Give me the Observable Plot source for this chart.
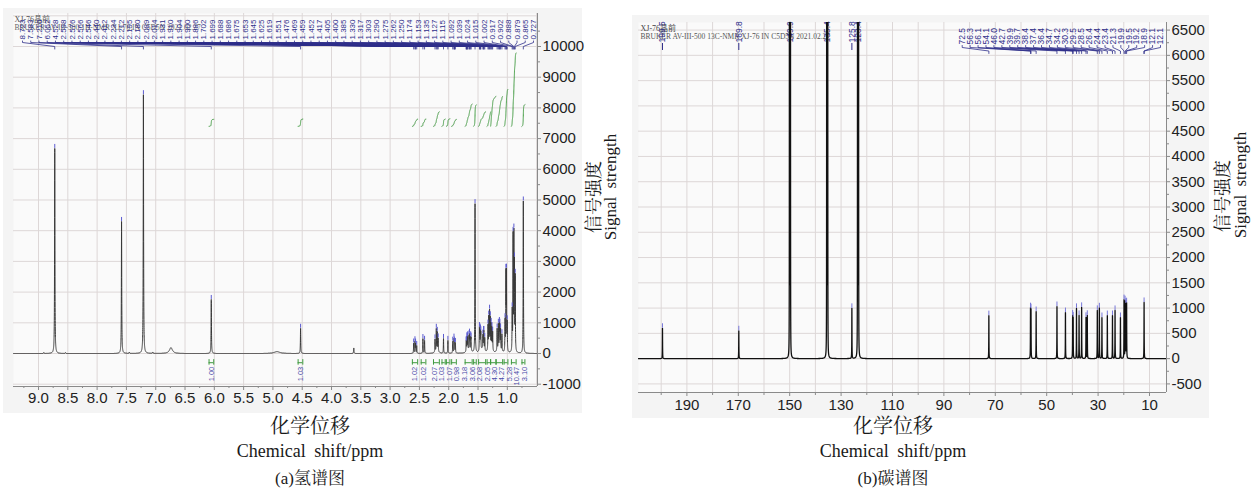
<!DOCTYPE html>
<html>
<head>
<meta charset="utf-8">
<script src="https://cdn.jsdelivr.net/npm/d3@7"></script>
<script src="https://cdn.jsdelivr.net/npm/@observablehq/plot@0.6"></script>
<style>
  html,body{margin:0;padding:0;background:#fff;}
  #wrap{position:relative;width:1256px;height:488px;overflow:hidden;}
  .panel{position:absolute;background:#f4f4f4;}
  .chart{position:absolute;top:0;}
  .cap{position:absolute;transform:translate(-50%,-50%);white-space:nowrap;color:#1a1a1a;
       font-family:"Liberation Serif","Noto Serif CJK SC","Noto Sans CJK SC",serif;}
  .yt{position:absolute;white-space:nowrap;color:#1a1a1a;transform:translate(-50%,-50%) rotate(-90deg);
       font-family:"Liberation Serif","Noto Serif CJK SC","Noto Sans CJK SC",serif;}
</style>
</head>
<body>
<div id="wrap">
  <div class="panel" style="left:3px;top:8px;width:579px;height:405px"></div>
  <div class="panel" style="left:632px;top:15px;width:577px;height:403px"></div>
  <div id="hChart" class="chart" style="left:0px"></div>
  <div id="cChart" class="chart" style="left:620px"></div>
  <div class="yt" style="left:592px;top:197px;font-size:18px">信号强度</div>
  <div class="yt" style="left:611px;top:187px;font-size:17px;word-spacing:4px">Signal strength</div>
  <div class="yt" style="left:1221px;top:196px;font-size:18px">信号强度</div>
  <div class="yt" style="left:1241px;top:185px;font-size:17px;word-spacing:4px">Signal strength</div>
  <div class="cap" style="left:310px;top:424px;font-size:20px">化学位移</div>
  <div class="cap" style="left:310px;top:451px;font-size:18px;word-spacing:4px">Chemical shift/ppm</div>
  <div class="cap" style="left:310px;top:476px;font-size:17px">(a)氢谱图</div>
  <div class="cap" style="left:893px;top:424px;font-size:20px">化学位移</div>
  <div class="cap" style="left:893px;top:451px;font-size:18px;word-spacing:4px">Chemical shift/ppm</div>
  <div class="cap" style="left:893px;top:476px;font-size:17px">(b)碳谱图</div>
</div>
<script>
// ---------------- (a) 1H NMR data ----------------
const hLabels = ["8.723","7.583","7.210","6.052","4.528","2.598","2.576","2.566","2.546","2.440","2.412","2.234","2.212","2.195","2.180","2.089","2.014","1.931","1.910","1.904","1.900","1.886","1.702","1.699","1.688","1.686","1.675","1.653","1.645","1.625","1.619","1.551","1.476","1.469","1.459","1.452","1.417","1.405","1.400","1.385","1.330","1.317","1.303","1.290","1.275","1.262","1.250","1.174","1.153","1.135","1.127","1.115","1.092","1.039","1.024","1.015","1.002","0.917","0.902","0.888","0.879","0.865","0.727"];
const hHeights = [6680,4300,8430,1760,820, 330,380,300,250, 480,420, 420,720,600,420, 480,420, 380,420,220,220,330, 220,220,250,250,450,420,480,400,360, 4850, 700,600,560,520,450,480,500,420, 780,1000,1150,950,800,700,600, 720,800,760,700,650,560, 1000,2450,2450,900, 1300,3700,3600,2600,2400, 4960];
const hExtraShift  = [8.91, 8.54, 7.45, 7.05, 6.74, 4.93, 3.62, 2.20, 1.65, 1.43, 1.30, 1.14];
const hExtraHeight = [30, 30, 40, 40, 190, 60, 180, 80, 100, 120, 160, 140];
const hExtraWidth  = [0.004,0.004,0.004,0.004,0.03,0.06,0.004,0.03,0.04,0.03,0.03,0.03];
const hIntValue = [1.00,1.03,1.02,1.02,2.07,1.03,1.07,0.98,3.18,3.06,2.08,2.05,4.30,4.27,5.28,10.47,3.10];
const hIntFrom  = [6.09,4.57,2.62,2.47,2.26,2.115,2.04,1.95,1.72,1.575,1.49,1.345,1.285,1.19,1.055,0.93,0.75];
const hIntTo    = [6.01,4.49,2.53,2.39,2.16,2.06,1.98,1.87,1.60,1.53,1.37,1.285,1.195,1.08,0.99,0.85,0.70];
const hXTicks = [9.0,8.5,8.0,7.5,7.0,6.5,6.0,5.5,5.0,4.5,4.0,3.5,3.0,2.5,2.0,1.5,1.0];
const hYTicks = [-1000,0,1000,2000,3000,4000,5000,6000,7000,8000,9000,10000];

// ---------------- (b) 13C NMR data ----------------
const cIsoLabels = ["199.5","169.8","149.9","135.4","125.8","123.4"];
const cClusterLabels = ["72.5","56.3","56.1","54.1","46.0","42.7","39.9","39.7","38.4","37.4","36.4","34.7","34.2","30.3","29.5","28.5","26.4","24.4","23.4","21.3","19.9","19.5","19.2","18.9","12.1","12.1"];
const cPeakShift  = [199.5,169.8,150.1,149.9,149.7,135.6,135.4,135.2,125.8,123.6,123.4,123.2,72.5,56.3,56.1,54.1,46.0,42.7,39.9,39.7,38.4,37.4,36.4,34.7,34.2,30.3,29.5,28.5,26.4,24.4,23.4,21.3,19.9,19.5,19.2,18.9,12.1];
const cPeakHeight = [600,550,15000,15000,15000,15000,15000,15000,990,15000,15000,15000,850,970,950,930,1030,910,830,790,990,850,1010,810,850,950,1000,810,850,850,950,810,1150,1110,1050,1080,1110];
const cXTicks = [190,170,150,130,110,90,70,50,30,10];
const cYTicks = [-500,0,500,1000,1500,2000,2500,3000,3500,4000,4500,5000,5500,6000,6500];

// ---------------- common helpers ----------------
const lor = (x, p) => p.h * p.w * p.w / ((x - p.s) * (x - p.s) + p.w * p.w);
const specAt = (peaks, x) => { let s = 0; for (const p of peaks) s += lor(x, p); return s; };
const NAVY = "#2e2e8a", BLUE = "#5b5bd0", GREEN = "#3f9a3f", GRID = "#ddd7d7", AX = "#8a8a8a";
const serif = "Liberation Serif, Noto Sans CJK SC, serif";

// ================= LEFT: 1H =================
const HD = {xMin: 0.485, xMax: 9.427, yMin: -1075, yMax: 11075};
const HW = 620, HH = 420, HM = {l: 13, r: 83, t: 13, b: 34};
const leftX = d3.scaleLinear().domain([HD.xMax, HD.xMin]).range([HM.l, HW - HM.r]);
const leftY = d3.scaleLinear().domain([HD.yMin, HD.yMax]).range([HH - HM.b, HM.t]);

const hPeaks = hLabels.map((s, i) => ({s: +s, h: hHeights[i], w: i < 5 ? 0.0035 : 0.003}))
  .concat(hExtraShift.map((s, i) => ({s, h: hExtraHeight[i], w: hExtraWidth[i]})));
const hSpec = d3.range(HD.xMin, HD.xMax, 0.0005).map(x => ({x, y: specAt(hPeaks, x)}));

// integral curves
const HBASE = 7400, HUNIT = 228;
const hInt = [];
hIntValue.forEach((v, i) => {
  const pts = hSpec.filter(d => d.x <= hIntFrom[i] && d.x >= hIntTo[i]).sort((a, b) => b.x - a.x);
  const tot = d3.sum(pts, d => d.y);
  let c = 0;
  pts.forEach(d => { c += d.y; hInt.push({id: i, x: d.x, y: HBASE + v * HUNIT * c / tot}); });
});
const hBrackets = hIntValue.map((v, i) => ({a: hIntFrom[i], b: hIntTo[i]}));
// integral labels (spread to avoid overlap)
let hIL = hIntValue.map((v, i) => ({t: v.toFixed(2), px: leftX((hIntFrom[i] + hIntTo[i]) / 2)}));
hIL.sort((a, b) => a.px - b.px);
for (let it = 0; it < 400; it++) for (let k = 1; k < hIL.length; k++) {
  const g = hIL[k].px - hIL[k - 1].px;
  if (g < 7.4) { const m = (7.4 - g) / 2; hIL[k].px += m; hIL[k - 1].px -= m; }
}
hIL.forEach(d => d.x = leftX.invert(d.px));

// top peak labels + connectors
const hTop = hLabels.map((t, i) => ({t, lx: leftX.invert(22 + i * (533 - 22) / (hLabels.length - 1)), px: +t}));
const hYL = leftY.invert(39), hC1 = leftY.invert(40.5), hC2 = leftY.invert(42), hC3 = leftY.invert(46), hC4 = leftY.invert(48.5);
const hConn = hTop.flatMap((d, i) => [{id: i, x: d.lx, y: hC1}, {id: i, x: d.lx, y: hC2}, {id: i, x: d.px, y: hC3}, {id: i, x: d.px, y: hC4}]);
const hTips = hLabels.map(s => { const y = specAt(hPeaks, +s); return {x: +s, y1: y, y2: y + 130}; });

const hMinorX = d3.range(0.5, 9.3, 0.25).filter(v => Math.abs(v * 2 - Math.round(v * 2)) > 1e-6);
const hMinorY = d3.range(-500, 11000, 1000);

const left = Plot.plot({
  width: HW, height: HH,
  marginLeft: HM.l, marginRight: HM.r, marginTop: HM.t, marginBottom: HM.b,
  x: {domain: [HD.xMax, HD.xMin], label: null},
  y: {domain: [HD.yMin, HD.yMax], label: null},
  style: {background: "transparent", fontFamily: "Liberation Sans, Arial, sans-serif", fontSize: "15px", color: "#222", overflow: "visible"},
  marks: [
    Plot.frame({fill: "#fafafa", stroke: null}),
    Plot.gridX(d3.range(0.5, 9.01, 0.5), {stroke: GRID, strokeOpacity: 1}),
    Plot.gridY(d3.range(-1000, 11001, 1000), {stroke: GRID, strokeOpacity: 1}),
    Plot.ruleY([HD.yMin], {stroke: AX}),
    Plot.ruleX([HD.xMin], {stroke: AX}),
    Plot.axisX(hXTicks, {tickFormat: d => d.toFixed(1), tickSize: 4, tickPadding: 2, stroke: AX, label: null}),
    Plot.axisX(hMinorX, {tickFormat: () => "", tickSize: 2, stroke: AX, label: null}),
    Plot.axisY(hYTicks, {anchor: "right", tickFormat: d => String(d), tickSize: 3, tickPadding: 2, stroke: AX, label: null}),
    Plot.axisY(hMinorY, {anchor: "right", tickFormat: () => "", tickSize: 2, stroke: AX, label: null}),
    Plot.text(["XJ-76晶前"], {frameAnchor: "top-left", dx: 1, dy: 3, textAnchor: "start", lineAnchor: "top", fontSize: 8, fill: "#555", fontFamily: serif}),
    Plot.text(["BRUKER AV-III-500 1H-NMR XJ-76 IN C5D5N 2021.02.27"], {frameAnchor: "top-left", dx: 1, dy: 11, textAnchor: "start", lineAnchor: "top", fontSize: 7.5, fill: "#666", fontFamily: serif}),
    Plot.line(hInt, {x: "x", y: "y", z: "id", stroke: GREEN, strokeWidth: 1}),
    Plot.ruleY(hBrackets, {y: () => -300, x1: "a", x2: "b", stroke: GREEN, strokeWidth: 1}),
    Plot.ruleX(hBrackets, {x: "a", y1: () => -200, y2: () => -380, stroke: GREEN, strokeWidth: 1}),
    Plot.ruleX(hBrackets, {x: "b", y1: () => -200, y2: () => -380, stroke: GREEN, strokeWidth: 1}),
    Plot.text(hIL, {x: "x", y: () => -430, text: "t", rotate: -90, textAnchor: "end", fontSize: 7.5, fill: "#4a4aa8"}),
    Plot.line(hSpec, {x: "x", y: "y", stroke: "#383838", strokeWidth: 1, clip: true}),
    Plot.ruleX(hTips, {x: "x", y1: "y1", y2: "y2", stroke: BLUE, strokeWidth: 1}),
    Plot.line(hConn, {x: "x", y: "y", z: "id", stroke: NAVY, strokeWidth: 0.8}),
    Plot.text(hTop, {x: "lx", y: () => hYL, text: "t", rotate: -90, textAnchor: "start", fontSize: 8, fill: NAVY})
  ]
});
document.getElementById("hChart").appendChild(left);

// ================= RIGHT: 13C =================
const CD = {xMin: 3.38, xMax: 208.83, yMin: -670, yMax: 6650};
const CW = 600, CH = 420, CM = {l: 18, r: 54, t: 22, b: 28};
const rightX = d3.scaleLinear().domain([CD.xMax, CD.xMin]).range([CM.l, CW - CM.r]);
const rightY = d3.scaleLinear().domain([CD.yMin, CD.yMax]).range([CH - CM.b, CM.t]);

const cPeaks = cPeakShift.map((s, i) => ({s, h: cPeakHeight[i], w: cPeakHeight[i] > 5000 ? 0.022 : 0.04}));
const cSpec = d3.range(CD.xMin, CD.xMax, 0.005).map(x => ({x, y: specAt(cPeaks, x)}));
const cTips = cPeaks.filter(p => p.h < 5000).map(p => { const y = specAt(cPeaks, p.s); return {x: p.s, y1: y, y2: y + 90}; });

const cIso = cIsoLabels.map(t => ({t, x: +t}));
const cYI = rightY.invert(42), cR1 = rightY.invert(43), cR2 = rightY.invert(50);
const cClu = cClusterLabels.map((t, i) => ({t, lx: rightX.invert(341.7 + i * (540 - 341.7) / (cClusterLabels.length - 1)), px: +t}));
const cYL = rightY.invert(44), cC1 = rightY.invert(45), cC2 = rightY.invert(47), cC3 = rightY.invert(50.5), cC4 = rightY.invert(53);
const cConn = cClu.flatMap((d, i) => [{id: i, x: d.lx, y: cC1}, {id: i, x: d.lx, y: cC2}, {id: i, x: d.px, y: cC3}, {id: i, x: d.px, y: cC4}]);

const cMinorX = d3.range(0, 209, 10).filter(v => v % 20 === 0 && v >= CD.xMin && v <= CD.xMax);
const cMinorY = d3.range(-250, 6650, 500);

const right = Plot.plot({
  width: CW, height: CH,
  marginLeft: CM.l, marginRight: CM.r, marginTop: CM.t, marginBottom: CM.b,
  x: {domain: [CD.xMax, CD.xMin], label: null},
  y: {domain: [CD.yMin, CD.yMax], label: null},
  style: {background: "transparent", fontFamily: "Liberation Sans, Arial, sans-serif", fontSize: "15px", color: "#222", overflow: "visible"},
  marks: [
    Plot.frame({fill: "#fafafa", stroke: null}),
    Plot.gridX(d3.range(10, 201, 10), {stroke: GRID, strokeOpacity: 1}),
    Plot.gridY(d3.range(-500, 6501, 500), {stroke: GRID, strokeOpacity: 1}),
    Plot.ruleY([CD.yMin], {stroke: AX}),
    Plot.ruleX([CD.xMin], {stroke: AX}),
    Plot.axisX(cXTicks, {tickFormat: d => String(d), tickSize: 4, tickPadding: 3, stroke: AX, label: null}),
    Plot.axisX(cMinorX, {tickFormat: () => "", tickSize: 3, stroke: AX, label: null}),
    Plot.axisY(cYTicks, {anchor: "right", tickFormat: d => String(d), tickSize: 3, tickPadding: 2, stroke: AX, label: null}),
    Plot.axisY(cMinorY, {anchor: "right", tickFormat: () => "", tickSize: 2, stroke: AX, label: null}),
    Plot.text(["XJ-76晶前"], {frameAnchor: "top-left", dx: 2, dy: 3, textAnchor: "start", lineAnchor: "top", fontSize: 8, fill: "#444", fontFamily: serif}),
    Plot.text(["BRUKER AV-III-500 13C-NMR XJ-76 IN C5D5N 2021.02.27"], {frameAnchor: "top-left", dx: 2, dy: 11, textAnchor: "start", lineAnchor: "top", fontSize: 7.5, fill: "#555", fontFamily: serif}),
    Plot.text(cIso, {x: "x", y: () => cYI, text: "t", rotate: -90, textAnchor: "start", fontSize: 8.5, fill: NAVY}),
    Plot.ruleX(cIso, {x: "x", y1: () => cR1, y2: () => cR2, stroke: NAVY, strokeWidth: 1}),
    Plot.line(cSpec, {x: "x", y: "y", stroke: "#111", strokeWidth: 1.3, clip: true}),
    Plot.ruleX(cTips, {x: "x", y1: "y1", y2: "y2", stroke: "#7878d8", strokeWidth: 1}),
    Plot.line(cConn, {x: "x", y: "y", z: "id", stroke: NAVY, strokeWidth: 0.8}),
    Plot.text(cClu, {x: "lx", y: () => cYL, text: "t", rotate: -90, textAnchor: "start", fontSize: 8.5, fill: NAVY})
  ]
});
document.getElementById("cChart").appendChild(right);
</script>
</body>
</html>
